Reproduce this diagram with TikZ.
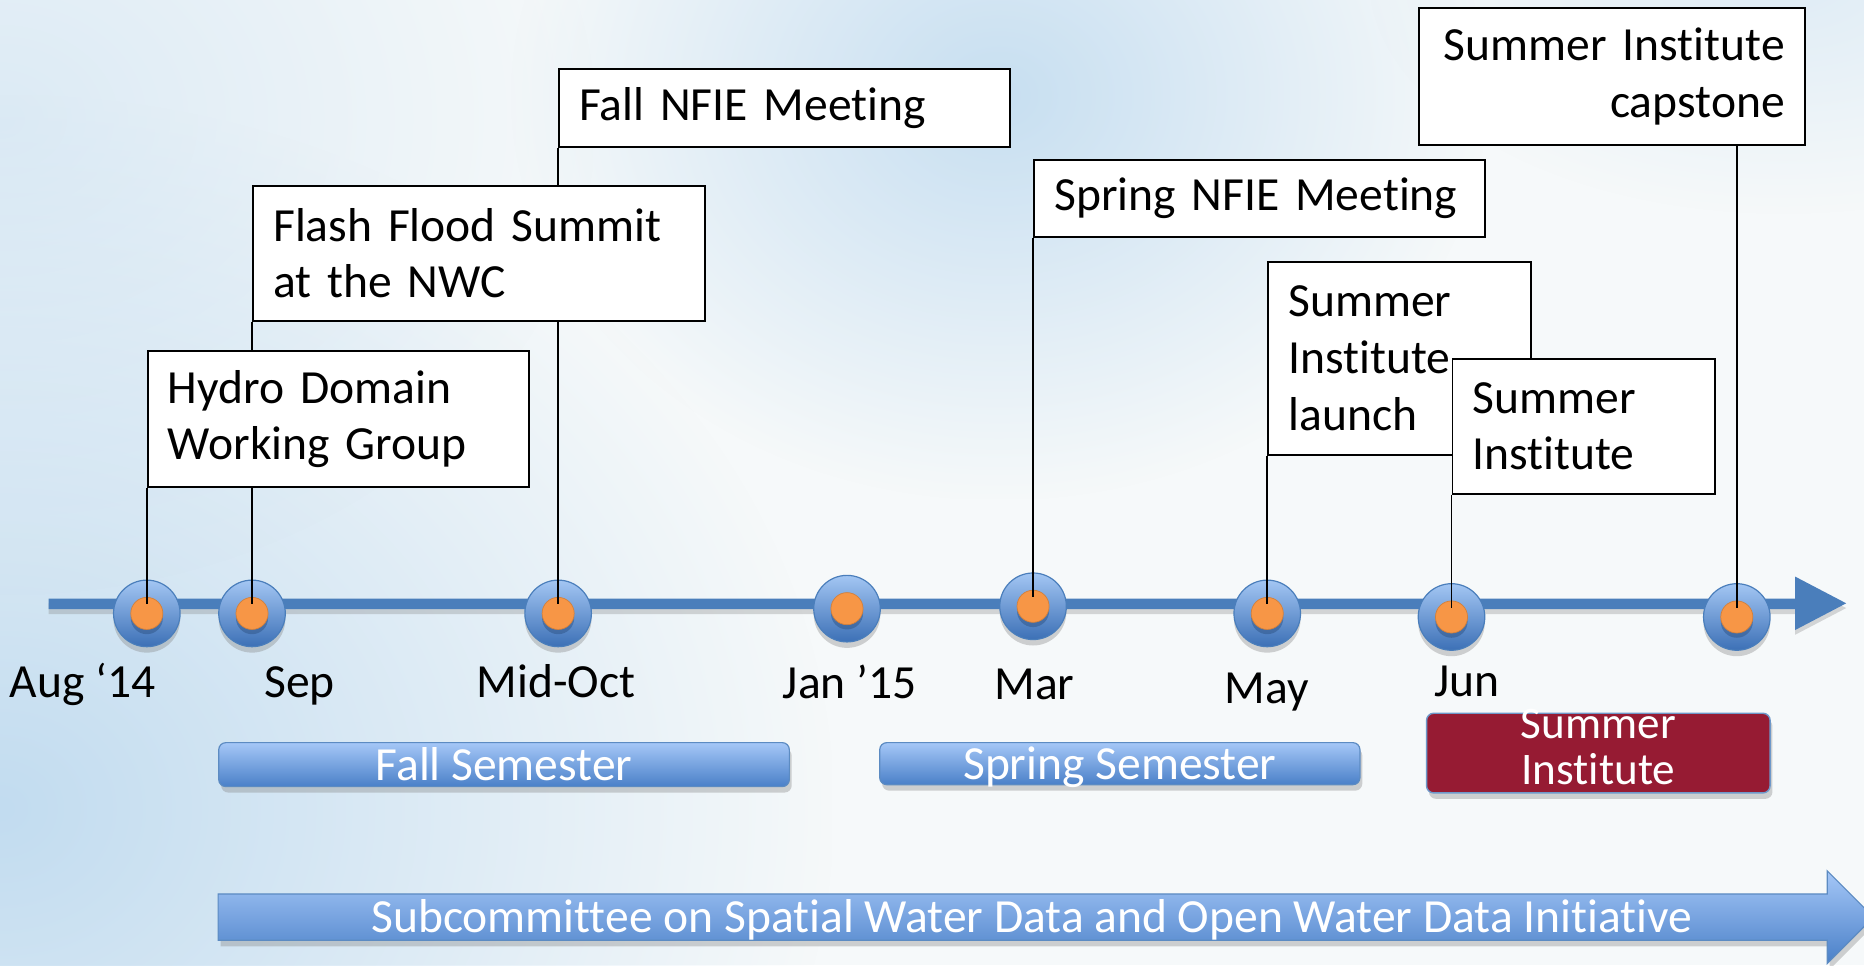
\documentclass[tikz,border=0pt]{standalone}
\usepackage{fontspec}
\setmainfont{Carlito}[Ligatures={NoCommon}]
\usetikzlibrary{shadows,fadings,calc,backgrounds}
\definecolor{bgbase}{HTML}{F6F9FA}
\definecolor{bgblue}{HTML}{C2DCF0}
\definecolor{tlblue}{HTML}{4A7EBB}
\definecolor{barlight}{HTML}{A5C7F7}
\definecolor{bardark}{HTML}{4A80C8}
\definecolor{ringlight}{HTML}{A3C6F3}
\definecolor{ringdark}{HTML}{3C70B6}
\definecolor{dotorange}{HTML}{F79646}
\definecolor{sired}{HTML}{961B33}
\tikzfading[name=softblob, inner color=transparent!0, outer color=transparent!100]
\pgfdeclarelayer{bg}
\pgfdeclarelayer{mid}
\pgfsetlayers{bg,mid,main}
\tikzset{
  txt/.style={font=\fontsize{20}{23.8}\selectfont, inner sep=0pt},
  evbox/.style={txt, draw=black, line width=0.8pt, fill=white, inner xsep=8.5pt, inner ysep=0pt, anchor=north west, align=left},
  ring/.style={circle, minimum size=28pt, inner sep=0pt, top color=ringlight, bottom color=ringdark, draw=tlblue, line width=0.5pt,
    drop shadow={opacity=0.35, shadow xshift=0pt, shadow yshift=-2.5pt}},
  evdot/.style={circle, minimum size=13.5pt, inner sep=0pt, fill=dotorange, draw=dotorange!85!black, line width=0.3pt,
    drop shadow={fill=ringdark!70!black, opacity=0.45, shadow xshift=0pt, shadow yshift=-2pt}},
  conn/.style={draw=black, line width=0.8pt},
  month/.style={txt, anchor=base},
  sembar/.style={txt, text=white, rounded corners=3pt, top color=barlight, bottom color=bardark, draw=tlblue!90, line width=0.5pt,
    inner sep=0pt, text height=14pt, text depth=0.5pt,
    drop shadow={opacity=0.35, shadow xshift=1pt, shadow yshift=-2.5pt}},
}
\begin{document}
\begin{tikzpicture}[x=0.5pt,y=-0.5pt]
\useasboundingbox (0,0) rectangle (1568,812);
\clip (0,0) rectangle (1568,812);
\begin{pgfonlayer}{bg}
  % background
  \fill[bgbase] (0,0) rectangle (1568,812);
  \fill[bgblue, path fading=softblob] (-700,80) rectangle (700,1280);
  \fill[bgblue, opacity=0.5, path fading=softblob] (-500,-300) rectangle (500,500);
  \fill[bgblue, opacity=0.9, path fading=softblob] (430,-260) rectangle (1250,420);
  \fill[bgblue, opacity=0.45, path fading=softblob] (1150,-220) rectangle (1850,180);
  % timeline bar with arrow head
  \fill[tlblue, drop shadow={opacity=0.3, shadow xshift=0pt, shadow yshift=-2pt}]
    (41,503.5) -- (1510,503.5) -- (1510,485) -- (1553,507.5) -- (1510,530) -- (1510,512.5) -- (41,512.5) -- cycle;
  % event markers
  \foreach \i/\x/\y in {1/123.5/516, 2/212/516, 3/469.5/516, 4/712.5/512, 5/869/510, 6/1066/516, 7/1221/519, 8/1461/519} {
    \node[ring] (c\i) at (\x,\y) {};
    \node[evdot] (d\i) at (\x,\y) {};
  }
  % semester bars
  \node[sembar, minimum width=240pt, minimum height=18.5pt] (fall) at (424,643.2) {Fall Semester};
  \node[sembar, minimum width=202pt, minimum height=17.7pt] (spring) at (942,642.4) {Spring Semester};
  \node[rounded corners=3pt, fill=sired, draw=tlblue!80, line width=0.6pt, minimum width=144.5pt, minimum height=33.5pt, inner sep=0pt,
    drop shadow={opacity=0.35, shadow xshift=1pt, shadow yshift=-2.5pt}] (sibar) at (1344.5,633.5) {};
  % bottom arrow
  \shade[top color=barlight, bottom color=bardark, draw=tlblue!90, line width=0.5pt,
    drop shadow={opacity=0.35, shadow xshift=1pt, shadow yshift=-2.5pt}]
    (183.5,752) -- (1537,752) -- (1537,732.5) -- (1576,771.5) -- (1537,810.5) -- (1537,791) -- (183.5,791) -- cycle;
\end{pgfonlayer}

% text on bars
\node[txt, text=white, align=center, anchor=north, font=\fontsize{19}{19}\selectfont] (sitext) at (1344.5,596.5) {Summer\\Institute};
\node[txt, text=white, anchor=base] (swd) at (868,784.5) {Subcommittee on Spatial Water Data and Open Water Data Initiative};

% month labels
\node[month] (m1) at (69.5,587) {Aug ‘14};
\node[month] (m2) at (252,587) {Sep};
\node[month] (m3) at (467.6,587) {Mid-Oct};
\node[month] (m4) at (714.8,587.4) {Jan ’15};
\node[month] (m5) at (870.2,588) {Mar};
\node[month] (m6) at (1065.8,591.6) {May};
\node[month] (m7) at (1234,586) {Jun};

% event boxes
\node[evbox, minimum width=160.5pt, minimum height=57.25pt, text width=143.5pt] (hydro) at (123.5,294.5) {Hydro Domain\\Working Group};
\node[evbox, minimum width=190pt, minimum height=56.7pt, text width=173pt] (flash) at (212,155.6) {Flash Flood Summit\\at the NWC};
\node[evbox, minimum width=189.5pt, minimum height=32.75pt, text width=172.5pt] (fallmeet) at (469.5,57.5) {Fall NFIE Meeting};
\node[evbox, minimum width=189.6pt, minimum height=32.4pt, text width=172.6pt] (springmeet) at (869,133.7) {Spring NFIE Meeting};
\node[evbox, minimum width=110.5pt, minimum height=81.3pt, text width=93.5pt] (launch) at (1066,219.3) {Summer\\Institute\\launch};
\node[evbox, minimum width=110.5pt, minimum height=56.5pt, text width=93.5pt] (summer) at (1221,301.4) {Summer\\Institute};
\node[evbox, align=right, minimum width=162.25pt, minimum height=57.5pt, text width=145.25pt] (cap) at (1193,6.2) {Summer Institute\\capstone};

% connectors
\begin{pgfonlayer}{mid}
  \draw[conn, shorten >=-3pt] (c1 |- hydro.south) -- (d1.north);
  \draw[conn, shorten >=-3pt] (c2 |- flash.south) -- (d2.north);
  \draw[conn, shorten >=-3pt] (c3 |- fallmeet.south) -- (d3.north);
  \draw[conn, shorten >=-3pt] (c5 |- springmeet.south) -- (d5.north);
  \draw[conn, shorten >=-3pt] (c6 |- launch.south) -- (d6.north);
  \draw[conn, shorten >=-3pt] (c7 |- summer.south) -- (d7.north);
  \draw[conn, shorten >=-3pt] (c8 |- cap.south) -- (d8.north);
\end{pgfonlayer}
\end{tikzpicture}
\end{document}
